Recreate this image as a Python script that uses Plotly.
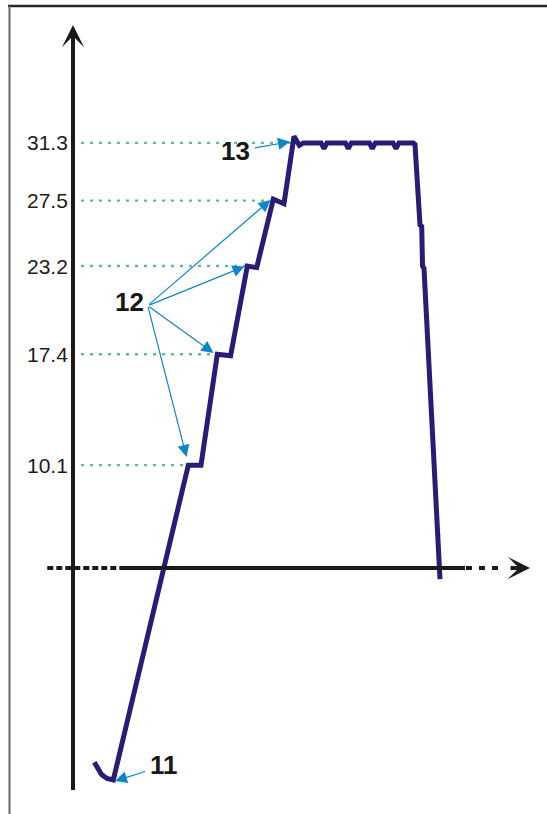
import numpy as np
import plotly.graph_objects as go

# ---------------- data ----------------
# schematic temperature profile: time (arbitrary units) vs temperature
time_pts = [5.33, 6.13, 7.13, 8.5, 10.08,
            28.83, 32.0,
            36.08, 39.4,
            43.58, 45.93,
            50.08, 52.75,
            55.25, 56.58, 57.58,
            62.0, 62.75, 63.5,
            68.1, 68.83, 69.6,
            74.1, 74.83, 75.6,
            80.0, 80.75, 81.5,
            85.08, 85.5, 85.93, 86.18, 86.75, 87.18, 87.38, 87.75, 91.75]
temp_pts = [-9.45, -9.89, -10.25, -10.51, -10.61,
            10.1, 10.1,
            17.4, 17.3,
            23.2, 23.1,
            27.6, 27.3,
            31.73, 31.14, 31.3,
            31.3, 30.93, 31.3,
            31.3, 30.93, 31.3,
            31.3, 30.93, 31.3,
            31.3, 30.93, 31.3,
            31.3, 31.2, 29.2, 29.1, 25.9, 25.8, 23.2, 23.05, 2.6]

levels = [10.1, 17.4, 23.2, 27.5, 31.3]
level_labels = ["10.1", "17.4", "23.2", "27.5", "31.3"]

callout_text = ["11", "12", "13"]
callout_t = [22.75, 14.0, 40.5]
callout_v = [-9.63, 20.8, 30.77]

arrow_tail_t = [18.43, 18.68, 18.68, 18.68, 18.68, 45.08]
arrow_tail_v = [-10.02, 20.59, 20.59, 20.59, 20.59, 30.95]
arrow_tip_t = [10.5, 28.38, 35.13, 42.88, 49.38, 54.25]
arrow_tip_v = [-10.68, 10.64, 17.48, 23.17, 27.55, 31.38]

# axis geometry (data units)
X_RANGE = [-18.25, 118.5]
Y_RANGE = [-12.85, 40.70]
H_AXIS_LEVEL = 3.34
H_AXIS_LEFT_DASH = [-6.43, 11.75]
H_AXIS_SOLID = [11.75, 98.0]
H_AXIS_RIGHT_DASH = [98.25, 108.0]
H_AXIS_ARROW = [109.0, 114.25]
V_AXIS_SPAN = [-11.27, 37.74]
V_AXIS_TIP = 39.05
GUIDE_START_T = 2.0
TICK_LABEL_T = -0.85

# ---------------- styles ----------------
CURVE_COLOR = "#2a1b76"
AXIS_COLOR = "#1c1a19"
GUIDE_COLOR = "#5fbd90"
ARROW_COLOR = "#0f85c9"
FONT = "Liberation Sans, Arial, sans-serif"

fig = go.Figure()

# curve
fig.add_trace(go.Scatter(x=time_pts, y=temp_pts, mode="lines",
                         line=dict(color=CURVE_COLOR, width=5),
                         hoverinfo="skip", showlegend=False))

shapes = []
# dotted guide lines from the axis to the step corners of the curve
tp = np.array(time_pts)
vp = np.array(temp_pts)
for lv in levels:
    idx = int(np.argmax(vp >= lv - 0.05))
    shapes.append(dict(type="line", xref="x", yref="y",
                       x0=GUIDE_START_T, x1=float(tp[idx]), y0=lv, y1=lv,
                       line=dict(color=GUIDE_COLOR, width=2.4, dash="3px,6px"),
                       layer="below"))

# horizontal axis
shapes.append(dict(type="line", xref="x", yref="y",
                   x0=H_AXIS_LEFT_DASH[0], x1=H_AXIS_LEFT_DASH[1],
                   y0=H_AXIS_LEVEL, y1=H_AXIS_LEVEL,
                   line=dict(color=AXIS_COLOR, width=4, dash="6px,3px")))
shapes.append(dict(type="line", xref="x", yref="y",
                   x0=H_AXIS_SOLID[0], x1=H_AXIS_SOLID[1],
                   y0=H_AXIS_LEVEL, y1=H_AXIS_LEVEL,
                   line=dict(color=AXIS_COLOR, width=4)))
shapes.append(dict(type="line", xref="x", yref="y",
                   x0=H_AXIS_RIGHT_DASH[0], x1=H_AXIS_RIGHT_DASH[1],
                   y0=H_AXIS_LEVEL, y1=H_AXIS_LEVEL,
                   line=dict(color=AXIS_COLOR, width=4, dash="6px,7px")))
# vertical axis
shapes.append(dict(type="line", xref="x", yref="y",
                   x0=0, x1=0, y0=V_AXIS_SPAN[0], y1=V_AXIS_SPAN[1],
                   line=dict(color=AXIS_COLOR, width=4)))

# frame (top and left edges)
shapes.append(dict(type="line", xref="paper", yref="paper",
                   x0=8 / 547, x1=1, y0=1 - 6 / 814, y1=1 - 6 / 814,
                   line=dict(color="#2a2625", width=2.5)))
shapes.append(dict(type="line", xref="paper", yref="paper",
                   x0=9.5 / 547, x1=9.5 / 547, y0=0, y1=1 - 6 / 814,
                   line=dict(color="#6a6867", width=2)))

annotations = []
# axis arrowheads
annotations.append(dict(x=0, y=V_AXIS_TIP, ax=0, ay=V_AXIS_SPAN[1] - 0.3,
                        xref="x", yref="y", axref="x", ayref="y",
                        text="", showarrow=True, arrowhead=3,
                        arrowwidth=4, arrowsize=0.92, arrowcolor=AXIS_COLOR,
                        standoff=0))
annotations.append(dict(x=H_AXIS_ARROW[1], y=H_AXIS_LEVEL,
                        ax=H_AXIS_ARROW[0], ay=H_AXIS_LEVEL,
                        xref="x", yref="y", axref="x", ayref="y",
                        text="", showarrow=True, arrowhead=3,
                        arrowwidth=4, arrowsize=0.92, arrowcolor=AXIS_COLOR,
                        standoff=0))
# callout arrows
for t0, v0, t1, v1 in zip(arrow_tail_t, arrow_tail_v, arrow_tip_t, arrow_tip_v):
    annotations.append(dict(x=t1, y=v1, ax=t0, ay=v0,
                            xref="x", yref="y", axref="x", ayref="y",
                            text="", showarrow=True, arrowhead=2,
                            arrowwidth=1.2, arrowsize=2.0, arrowcolor=ARROW_COLOR,
                            standoff=0))
# callout numbers
for txt, t, v in zip(callout_text, callout_t, callout_v):
    annotations.append(dict(x=t, y=v, xref="x", yref="y", text="<b>%s</b>" % txt,
                            showarrow=False, xanchor="center", yanchor="middle",
                            font=dict(family=FONT, size=26, color="#1a1817")))
# level tick labels on the vertical axis
for lv, lab in zip(levels, level_labels):
    annotations.append(dict(x=TICK_LABEL_T, y=lv, xref="x", yref="y", text=lab,
                            showarrow=False, xanchor="right", yanchor="middle",
                            font=dict(family=FONT, size=21, color="#1e1c1b")))

fig.update_layout(
    width=547, height=814,
    margin=dict(l=0, r=0, t=0, b=0),
    paper_bgcolor="white", plot_bgcolor="white",
    showlegend=False,
    xaxis=dict(range=X_RANGE, visible=False, domain=[0, 1], fixedrange=True),
    yaxis=dict(range=Y_RANGE, visible=False, domain=[0, 1], fixedrange=True),
    shapes=shapes,
    annotations=annotations,
)

fig.write_html("out.html",
               config={"displayModeBar": False},
               post_script="document.body.style.margin='0';"
                           "document.body.style.overflow='hidden';")
